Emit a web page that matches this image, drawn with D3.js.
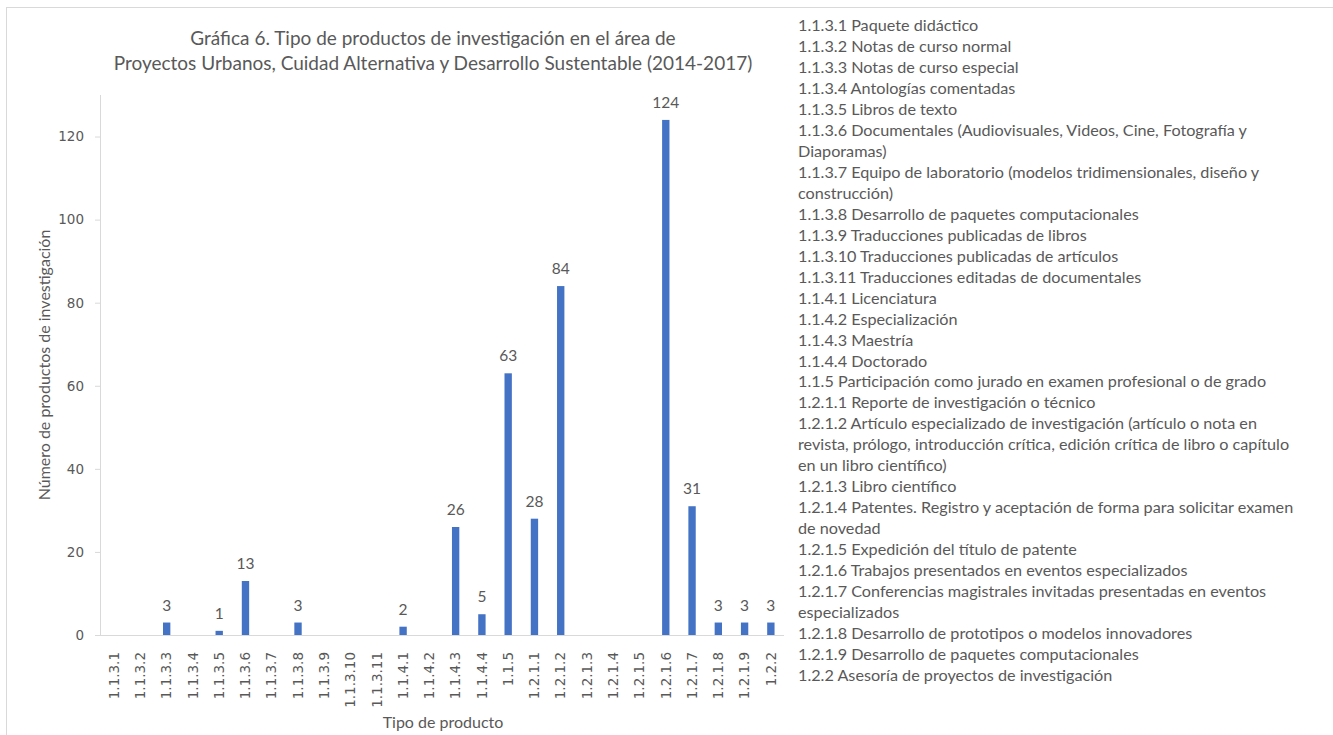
<!DOCTYPE html>
<html>
<head>
<meta charset="utf-8">
<script src="https://cdn.jsdelivr.net/npm/d3@7"></script>
<style>
  body { margin: 0; background: #fff; }
  svg text { fill: #595959; }
</style>
</head>
<body>
<svg width="1333" height="735"></svg>
<script>
// categories and counts
const categories = ["1.1.3.1","1.1.3.2","1.1.3.3","1.1.3.4","1.1.3.5","1.1.3.6","1.1.3.7","1.1.3.8",
  "1.1.3.9","1.1.3.10","1.1.3.11","1.1.4.1","1.1.4.2","1.1.4.3","1.1.4.4","1.1.5",
  "1.2.1.1","1.2.1.2","1.2.1.3","1.2.1.4","1.2.1.5","1.2.1.6","1.2.1.7","1.2.1.8","1.2.1.9","1.2.2"];
const counts = [0,0,3,0,1,13,0,3,0,0,0,2,0,26,5,63,28,84,0,0,0,124,31,3,3,3];
const yTicks = [0,20,40,60,80,100,120];

const titleLines = [
  "Gráfica 6. Tipo de productos de investigación en el área de",
  "Proyectos Urbanos, Cuidad Alternativa y Desarrollo Sustentable (2014-2017)"
];

const legendLines = [
  "1.1.3.1 Paquete didáctico",
  "1.1.3.2 Notas de curso normal",
  "1.1.3.3 Notas de curso especial",
  "1.1.3.4 Antologías comentadas",
  "1.1.3.5 Libros de texto",
  "1.1.3.6 Documentales (Audiovisuales, Videos, Cine, Fotografía y",
  "Diaporamas)",
  "1.1.3.7 Equipo de laboratorio (modelos tridimensionales, diseño y",
  "construcción)",
  "1.1.3.8 Desarrollo de paquetes computacionales",
  "1.1.3.9 Traducciones publicadas de libros",
  "1.1.3.10 Traducciones publicadas de artículos",
  "1.1.3.11 Traducciones editadas de documentales",
  "1.1.4.1 Licenciatura",
  "1.1.4.2 Especialización",
  "1.1.4.3 Maestría",
  "1.1.4.4 Doctorado",
  "1.1.5 Participación como jurado en examen profesional o de grado",
  "1.2.1.1 Reporte de investigación o técnico",
  "1.2.1.2 Artículo especializado de investigación (artículo o nota en",
  "revista, prólogo, introducción crítica, edición crítica de libro o capítulo",
  "en un libro científico)",
  "1.2.1.3 Libro científico",
  "1.2.1.4 Patentes. Registro y aceptación de forma para solicitar examen",
  "de novedad",
  "1.2.1.5 Expedición del título de patente",
  "1.2.1.6 Trabajos presentados en eventos especializados",
  "1.2.1.7 Conferencias magistrales invitadas presentadas en eventos",
  "especializados",
  "1.2.1.8 Desarrollo de prototipos o modelos innovadores",
  "1.2.1.9 Desarrollo de paquetes computacionales",
  "1.2.2 Asesoría de proyectos de investigación"
];

const svg = d3.select("svg");
const axisColor = "#d9d9d9";
const barColor = "#4472c4";
const labelFont = "Lato, 'Open Sans', sans-serif";
const tickFont = "'DejaVu Sans', sans-serif";

// chart frame
svg.append("rect")
  .attr("x", 6.5).attr("y", 7.5)
  .attr("width", 1340).attr("height", 740)
  .attr("fill", "none").attr("stroke", axisColor);

const plot = { left: 100, right: 784, top: 95, bottom: 635 };

const x = d3.scaleBand()
  .domain(categories)
  .range([plot.left + 1, plot.right])
  .paddingInner(0.72)
  .paddingOuter(0.36);

const y = d3.scaleLinear()
  .domain([0, 130])
  .range([plot.bottom, plot.top]);

// title
svg.append("text")
  .attr("x", 433).attr("y", 45)
  .attr("text-anchor", "middle")
  .style("font-family", labelFont).style("font-size", "19px")
  .selectAll("tspan")
  .data(titleLines)
  .join("tspan")
  .attr("x", 433)
  .attr("dy", (d, i) => i === 0 ? 0 : 25)
  .text(d => d);

// y axis
const yAxis = svg.append("g")
  .attr("transform", `translate(${plot.left},0)`)
  .call(d3.axisLeft(y).tickValues(yTicks).tickSize(5).tickPadding(11));
yAxis.select(".domain").attr("stroke", axisColor).attr("d", `M0.5,${plot.top}V${plot.bottom}`);
yAxis.selectAll(".tick line").attr("stroke", axisColor);
yAxis.selectAll(".tick text")
  .style("font-family", tickFont)
  .style("font-size", "13.5px")
  .attr("fill", "#595959");

// x axis
const xAxis = svg.append("g")
  .attr("transform", `translate(0,${plot.bottom})`)
  .call(d3.axisBottom(x).tickSize(0));
xAxis.select(".domain").attr("stroke", axisColor).attr("d", `M${plot.left},0.5H${plot.right}`);
xAxis.selectAll(".tick text")
  .style("font-family", tickFont)
  .style("font-size", "13.5px")
  .attr("fill", "#595959")
  .attr("text-anchor", "end")
  .attr("transform", "rotate(-90)")
  .attr("x", -17).attr("y", 0).attr("dy", "0.35em");

// bars
svg.append("g")
  .selectAll("rect")
  .data(categories.map((c, i) => ({ c, v: counts[i] })))
  .join("rect")
  .attr("x", d => x(d.c))
  .attr("width", x.bandwidth())
  .attr("y", d => y(d.v))
  .attr("height", d => y(0) - y(d.v))
  .attr("fill", barColor);

// data labels (zeros are not labelled)
svg.append("g")
  .selectAll("text")
  .data(categories.map((c, i) => ({ c, v: counts[i] })).filter(d => d.v > 0))
  .join("text")
  .attr("x", d => x(d.c) + x.bandwidth() / 2)
  .attr("y", d => y(d.v) - 12)
  .attr("text-anchor", "middle")
  .style("font-family", labelFont).style("font-size", "15.5px")
  .attr("fill", "#404040")
  .text(d => d.v);

// axis titles
svg.append("text")
  .attr("transform", "translate(50,365) rotate(-90)")
  .attr("text-anchor", "middle")
  .style("font-family", labelFont).style("font-size", "16px")
  .text("Número de productos de investigación");

svg.append("text")
  .attr("x", 443).attr("y", 728)
  .attr("text-anchor", "middle")
  .style("font-family", labelFont).style("font-size", "16px")
  .text("Tipo de producto");

// category legend text
svg.append("g")
  .selectAll("text")
  .data(legendLines)
  .join("text")
  .attr("x", 798)
  .attr("y", (d, i) => 31 + i * 20.97)
  .style("font-family", labelFont).style("font-size", "16.2px")
  .attr("fill", "#404040")
  .text(d => d);
</script>
</body>
</html>
